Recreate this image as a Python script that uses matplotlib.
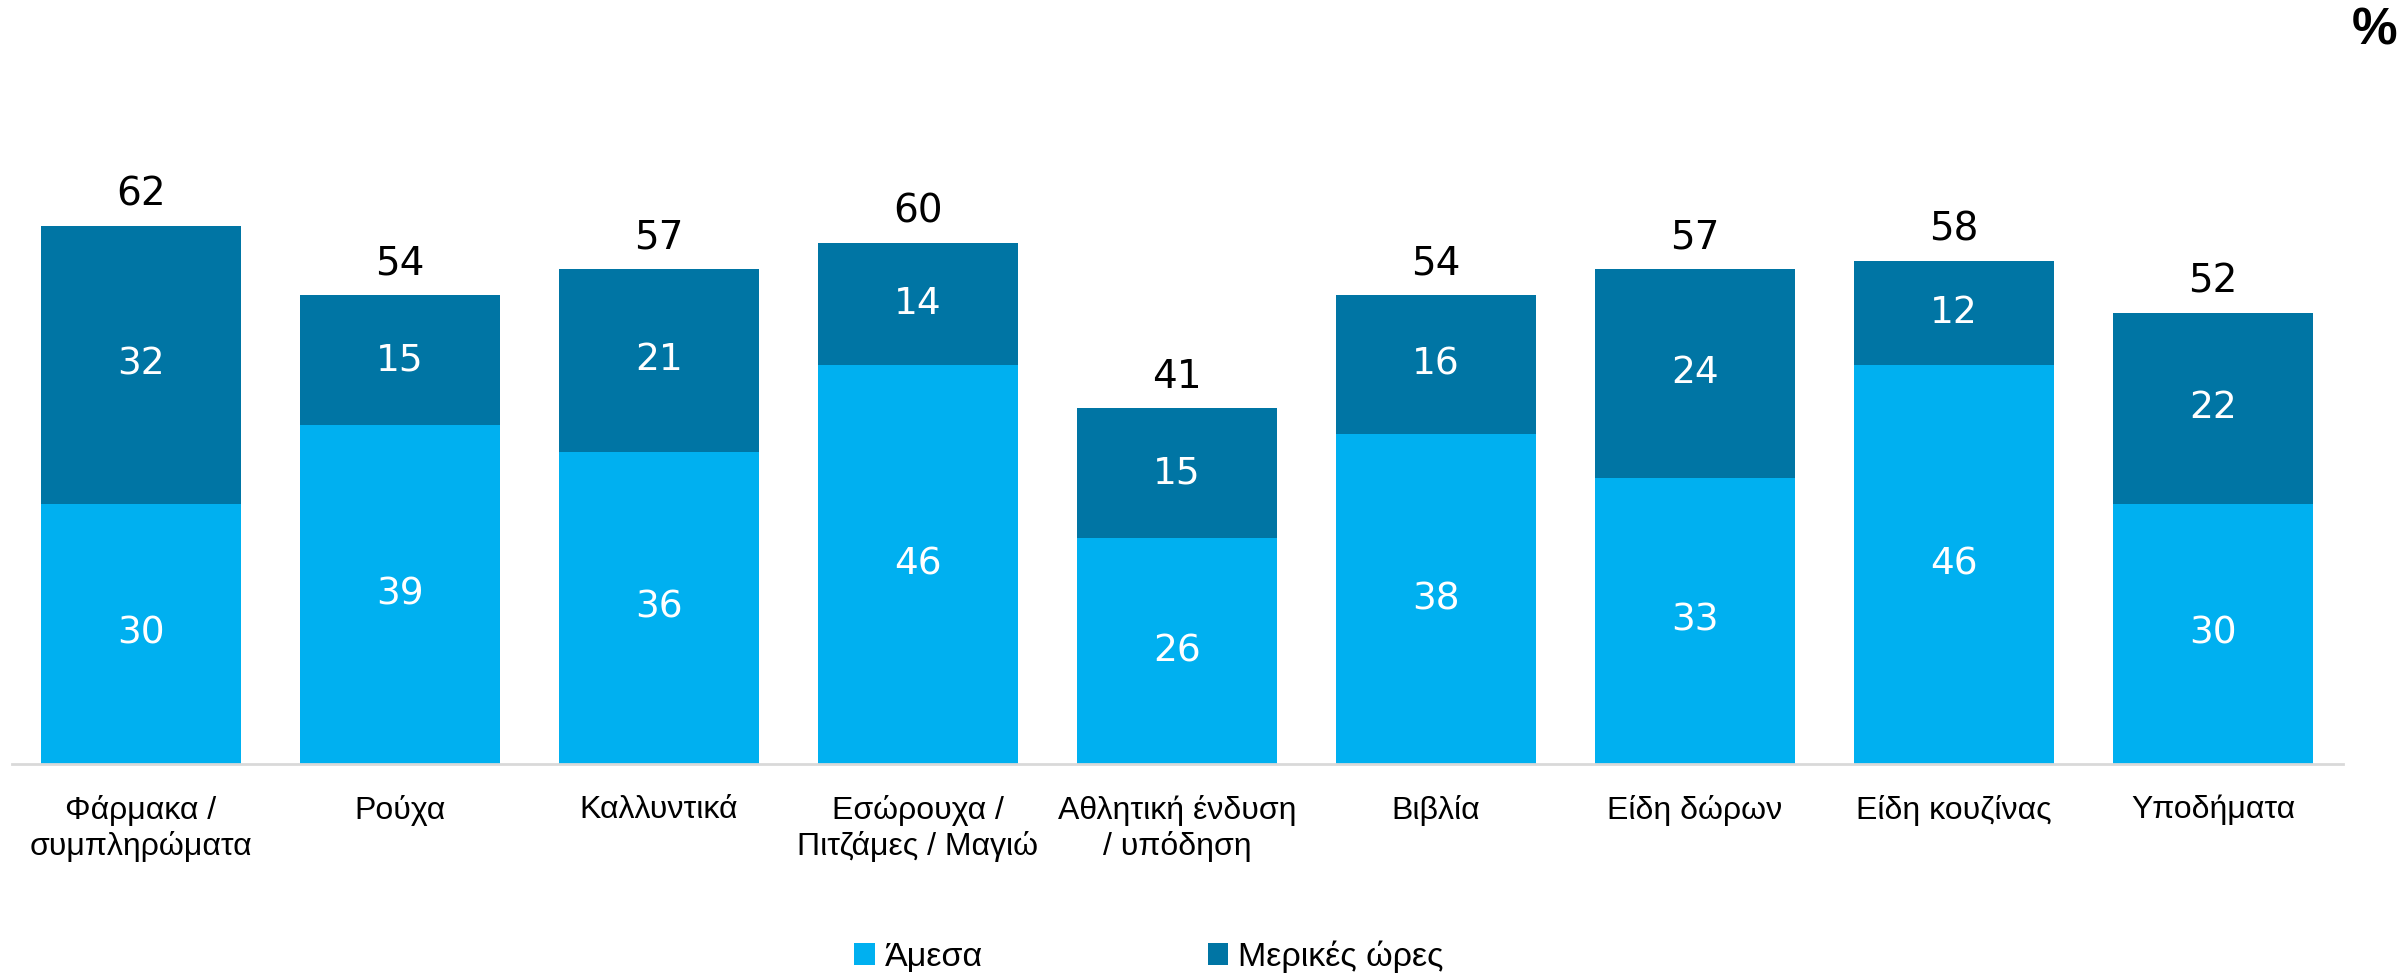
import matplotlib
matplotlib.use("Agg")
import matplotlib.pyplot as plt
import numpy as np

categories = ["Φάρμακα /\nσυμπληρώματα", "Ρούχα", "Καλλυντικά", "Εσώρουχα /\nΠιτζάμες / Μαγιώ",
              "Αθλητική ένδυση\n/ υπόδηση", "Βιβλία", "Είδη δώρων", "Είδη κουζίνας", "Υποδήματα"]
amesa = [30, 39, 36, 46, 26, 38, 33, 46, 30]
merikes = [32, 15, 21, 14, 15, 16, 24, 12, 22]
series_names = ["Άμεσα", "Μερικές ώρες"]
totals = [a + m for a, m in zip(amesa, merikes)]

c_light = "#00B0F0"
c_dark = "#0075A4"

plt.rcParams['font.family'] = ['Liberation Sans', 'DejaVu Sans']
num_font = ['DejaVu Sans']

fig = plt.figure(figsize=(24, 9.75), dpi=100)
ax = fig.add_axes([11.5/2400, 211/975, 2331/2400, 607.6/975])

x = np.arange(len(categories))
w = 0.77
b1 = ax.bar(x, amesa, width=w, color=c_light, label=series_names[0], zorder=2)
b2 = ax.bar(x, merikes, width=w, bottom=amesa, color=c_dark, label=series_names[1], zorder=2)

for i in range(len(categories)):
    ax.text(x[i], amesa[i] / 2, str(amesa[i]), ha='center', va='center', color='white',
            fontsize=27, family=num_font)
    ax.text(x[i], amesa[i] + merikes[i] / 2, str(merikes[i]), ha='center', va='center', color='white',
            fontsize=27, family=num_font)
    ax.annotate(str(totals[i]), (x[i], totals[i]), xytext=(0, 9), textcoords='offset points',
                ha='center', va='bottom', color='black', fontsize=28, family=num_font)

ax.set_xlim(-0.5, len(categories) - 0.5)
ax.set_ylim(0, 70)
ax.set_xticks(x)
ax.set_xticklabels(categories, fontsize=23, linespacing=1.22)
ax.tick_params(axis='x', length=0, pad=22)
ax.set_yticks([])
for s in ['top', 'right', 'left']:
    ax.spines[s].set_visible(False)
ax.spines['bottom'].set_color('#D9D9D9')
ax.spines['bottom'].set_linewidth(2)

fig.text(2397/2400, 1 - 31/975, "%", ha='right', va='center', fontsize=37, fontweight='bold')

fig.legend(handles=[b1, b2], labels=series_names, loc='center', bbox_to_anchor=(1149/2400, 1 - 957/975),
           ncol=2, frameon=False, fontsize=24.5, handlelength=0.6, handleheight=0.6,
           handletextpad=0.3, columnspacing=6.6)

fig.savefig("out.png", dpi=100)
